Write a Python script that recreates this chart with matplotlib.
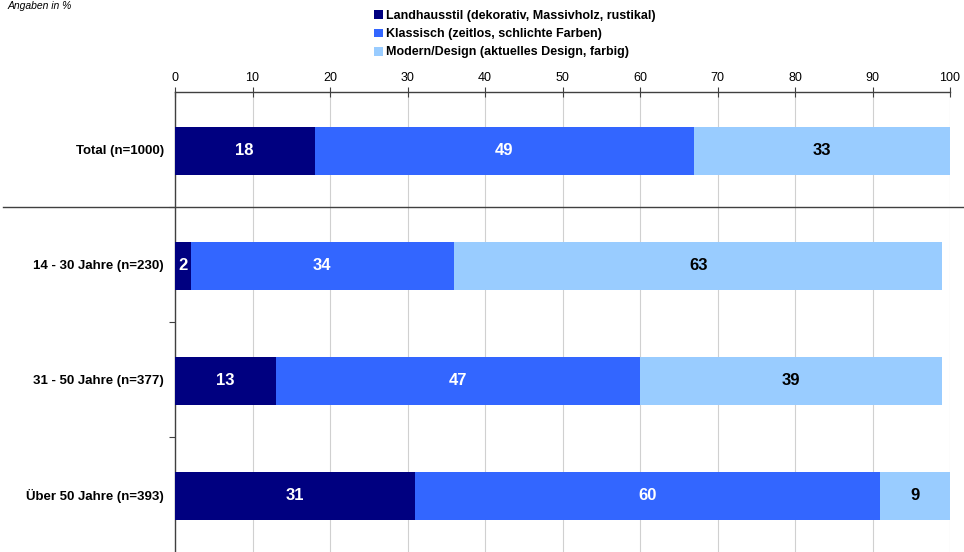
import matplotlib
matplotlib.use("Agg")
import matplotlib.pyplot as plt
import matplotlib.transforms as mtransforms
from matplotlib.patches import Patch

plt.rcParams['font.family'] = ['Liberation Sans', 'DejaVu Sans']

categories = ["Total (n=1000)", "14 - 30 Jahre (n=230)", "31 - 50 Jahre (n=377)", "Über 50 Jahre (n=393)"]
series_names = ["Landhausstil (dekorativ, Massivholz, rustikal)",
                "Klassisch (zeitlos, schlichte Farben)",
                "Modern/Design (aktuelles Design, farbig)"]
landhaus = [18, 2, 13, 31]
klassisch = [49, 34, 47, 60]
modern = [33, 63, 39, 9]
colors = ["#000080", "#3366FF", "#99CCFF"]
text_colors = ["white", "white", "black"]
xticks = [0, 10, 20, 30, 40, 50, 60, 70, 80, 90, 100]

W, H = 964, 552
fig = plt.figure(figsize=(W / 100, H / 100), dpi=100)
ax = fig.add_axes([175 / W, 0, (950 - 175) / W, (H - 92) / H])

ypos = list(range(len(categories)))
series = [landhaus, klassisch, modern]
left = [0] * len(categories)
for vals, col, tcol in zip(series, colors, text_colors):
    ax.barh([y + 0.01 for y in ypos], vals, left=left, height=0.42, color=col, zorder=3)
    for y, l, v in zip(ypos, left, vals):
        ax.text(l + v / 2, y + 0.01, str(v), ha='center', va='center', color=tcol,
                fontsize=12, fontweight='bold', zorder=4)
    left = [a + b for a, b in zip(left, vals)]

ax.set_xlim(0, 100)
ax.set_ylim(3.5, -0.5)
ax.xaxis.tick_top()
ax.set_xticks(xticks)
ax.set_xticklabels([str(t) for t in xticks], fontsize=9)
ax.tick_params(axis='x', direction='inout', length=7, width=0.8, color='#404040', pad=2)
ax.grid(axis='x', color='#d0d0d0', linewidth=0.8, zorder=0)

ax.set_yticks(ypos)
ax.set_yticklabels(categories, fontsize=9.5, fontweight='bold')
ax.tick_params(axis='y', length=0, pad=8)
ax.set_yticks([0.5, 1.5, 2.5], minor=True)
ax.tick_params(axis='y', which='minor', length=4, width=0.8, color='#404040', direction='out')

for s in ['right', 'bottom']:
    ax.spines[s].set_visible(False)
ax.spines['top'].set_color('#404040')
ax.spines['left'].set_color('#404040')
ax.spines['top'].set_linewidth(1.0)
ax.spines['left'].set_linewidth(1.0)

# separator line between Total and age groups
trans = mtransforms.blended_transform_factory(fig.transFigure, ax.transData)
ax.plot([3 / W, 1.0], [0.5, 0.5], transform=trans, color='#404040', linewidth=1.0,
        clip_on=False, zorder=5)

handles = [Patch(facecolor=c, edgecolor='none') for c in colors]
leg = fig.legend(handles, series_names, loc='upper left', bbox_to_anchor=(374 / W, 1 - 10 / H),
                 frameon=False, prop={'size': 9, 'weight': 'bold'},
                 handlelength=0.7, handleheight=0.7, handletextpad=0.25, labelspacing=0.5,
                 borderaxespad=0, borderpad=0)

fig.text(8 / W, 1 - 9 / H, "Angaben in %", fontsize=7.5, style='italic', va='baseline', ha='left')

fig.savefig("out.png", dpi=100)
